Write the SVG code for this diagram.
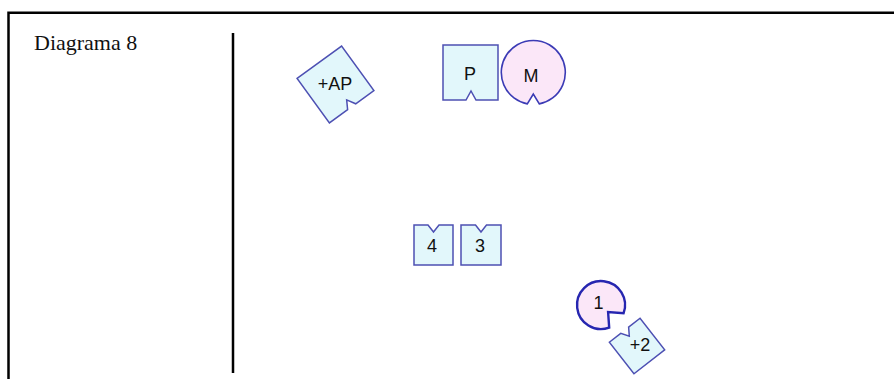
<svg xmlns="http://www.w3.org/2000/svg" width="894" height="379" viewBox="0 0 894 379">
<style>
.frame{fill:none;stroke:#000;stroke-width:2.5}
.sq{fill:#e2f7fb;stroke:#4d50b3;stroke-width:1.5}
.ci{fill:#fbe7f8;stroke:#3b3bb5;stroke-width:1.6}
.ci1{fill:#fbe7f8;stroke:#2626b0;stroke-width:2.4}
.lbl{font-family:"Liberation Sans",Arial,sans-serif;font-size:18px;fill:#111;text-anchor:middle;dominant-baseline:central}
.title{font-family:"Liberation Serif","Times New Roman",serif;font-size:22px;fill:#111}
</style>
<rect width="894" height="379" fill="#fff"/>
<path class="frame" d="M8.5,379 V12.8 H894"/>
<line x1="233" y1="33" x2="233" y2="373" stroke="#000" stroke-width="2.5"/>
<text class="title" x="34" y="50">Diagrama 8</text>
<g id="connectors"></g>
<g id="node-AP">
<path class="sq" transform="translate(335.5,84.5) rotate(-36)" d="M-27.5,-27.5 H27.5 V27.5 H5 L0,19 L-5,27.5 H-27.5 Z"/>
<text class="lbl" x="335" y="84">+AP</text>
</g>
<g id="node-P">
<path class="sq" d="M443,45 H498 V100 H476 L471,91 L466,100 H443 Z"/>
<text class="lbl" x="470" y="74">P</text>
</g>
<g id="node-M">
<path class="ci" d="M527.3,103.9 A32,32 0 1 1 539.3,103.9 L533.3,94 Z"/>
<text class="lbl" x="531" y="76">M</text>
</g>
<g id="node-4">
<path class="sq" d="M414,225 H428 L433.5,232 L439,225 H453 V265 H414 Z"/>
<text class="lbl" x="432" y="246">4</text>
</g>
<g id="node-3">
<path class="sq" d="M461,225 H475.5 L481,232 L486.5,225 H501 V265 H461 Z"/>
<text class="lbl" x="480" y="246">3</text>
</g>
<g id="node-1">
<path class="ci1" d="M609.2,327.6 A24,24 0 1 1 623.6,313.2 L608.1,312.1 Z"/>
<text class="lbl" x="598.5" y="303">1</text>
</g>
<g id="node-2">
<path class="sq" transform="translate(637,346) rotate(-38)" d="M-19.5,-20 H-5 L0,-12.5 L5,-20 H19.5 V20 H-19.5 Z"/>
<text class="lbl" x="640" y="345">+2</text>
</g>
</svg>
